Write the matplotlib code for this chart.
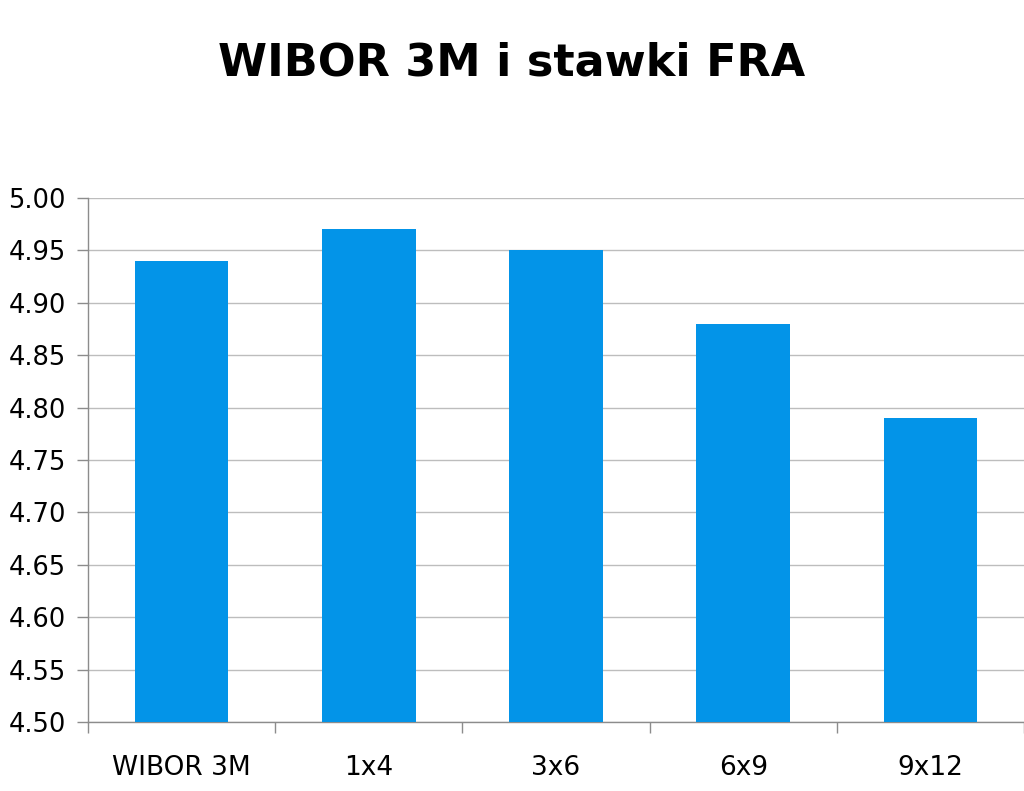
import matplotlib
matplotlib.use("Agg")
import matplotlib.pyplot as plt
import numpy as np

categories = ["WIBOR 3M", "1x4", "3x6", "6x9", "9x12"]
values = [4.94, 4.97, 4.95, 4.88, 4.79]
yticks = [4.50, 4.55, 4.60, 4.65, 4.70, 4.75, 4.80, 4.85, 4.90, 4.95, 5.00]

fig = plt.figure(figsize=(10.24, 7.91), dpi=100)
ax = fig.add_axes([88/1024, 69/791, 1 - 88/1024, (722-198)/791])

x = np.arange(len(categories))
ax.bar(x, values, width=0.5, color="#0394E8", zorder=3)
ax.set_xlim(-0.5, len(categories) - 0.5)
ax.set_ylim(4.50, 5.00)
ax.set_yticks(yticks)
ax.set_yticklabels([f"{v:.2f}" for v in yticks], fontsize=18.5, family="DejaVu Sans")
ax.yaxis.grid(True, color="#BDBDBD", linewidth=1, zorder=0)
ax.set_xticks(np.arange(len(categories) + 1) - 0.5)
ax.set_xticklabels([])
ax.set_xticks(x, minor=True)
ax.set_xticklabels(categories, minor=True, fontsize=19, family="DejaVu Sans")
ax.tick_params(axis="x", which="minor", length=0, pad=24)
ax.tick_params(axis="x", which="major", length=8, color="#8C8C8C", width=1)
ax.tick_params(axis="y", length=8, color="#8C8C8C", width=1, pad=8)
for s in ["top", "right"]:
    ax.spines[s].set_visible(False)
for s in ["left", "bottom"]:
    ax.spines[s].set_color("#8C8C8C")
    ax.spines[s].set_linewidth(1)

fig.text(0.5, 1 - 63/791, "WIBOR 3M i stawki FRA", ha="center", va="center",
         fontsize=32, fontweight="bold", family="DejaVu Sans")

fig.savefig("out.png", dpi=100)
